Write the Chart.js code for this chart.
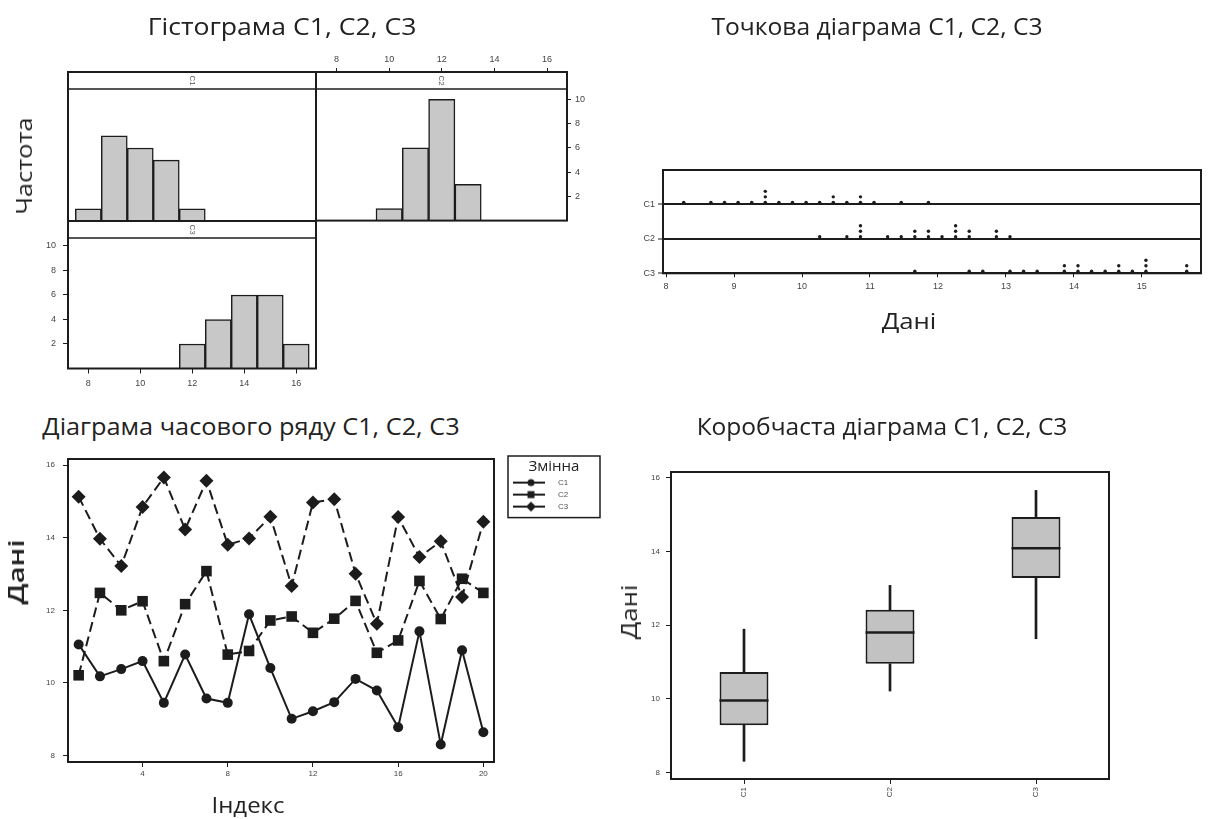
<!DOCTYPE html>
<html>
<head>
<meta charset="utf-8">
<title>C1, C2, C3</title>
<script src="https://cdn.jsdelivr.net/npm/chart.js@4.4.1/dist/chart.umd.min.js"></script>
<style>
  html, body { margin: 0; padding: 0; background: #fff; }
  #page { position: relative; width: 1216px; height: 819px; overflow: hidden; background: #fff; }
  #page canvas { position: absolute; }
  .txt { position: absolute; white-space: nowrap; line-height: 1; color: #222; font-family: "Open Sans", sans-serif;
         transform: translate(-50%, -50%); }
  .ttl { font-size: 23px; }
  .axt { font-size: 22px; }
</style>
</head>
<body>
<div id="page">
  <canvas id="histC1" width="264" height="165" style="left:60px;top:64px"></canvas>
  <canvas id="histC2" width="320" height="200" style="left:300px;top:30px"></canvas>
  <canvas id="histC3" width="330" height="190" style="left:0px;top:210px"></canvas>
  <canvas id="dotPlot" width="616" height="195" style="left:600px;top:150px"></canvas>
  <canvas id="timeSeries" width="620" height="350" style="left:0px;top:445px"></canvas>
  <canvas id="boxPlot" width="616" height="374" style="left:600px;top:445px"></canvas>

  <div class="txt ttl" data-w="269" style="left:282px;top:26px">Гістограма C1, C2, C3</div>
  <div class="txt ttl" data-w="331" style="left:877px;top:26px">Точкова діаграма C1, C2, C3</div>
  <div class="txt ttl" data-w="417" style="left:251px;top:426px">Діаграма часового ряду C1, C2, C3</div>
  <div class="txt ttl" data-w="371" style="left:882px;top:426px">Коробчаста діаграма C1, C2, C3</div>
  <div class="txt axt" data-w="97" data-rot="1" style="left:23px;top:166px">Частота</div>
  <div class="txt axt" data-w="55" style="left:909px;top:320px">Дані</div>
  <div class="txt axt" data-w="65" data-rot="1" style="left:15px;top:572px;font-weight:600">Дані</div>
  <div class="txt axt" data-w="73" style="left:248px;top:804px">Індекс</div>
  <div class="txt axt" data-w="55" data-rot="1" style="left:628px;top:612px">Дані</div>
</div>

<script>
// ---- data ----
const SERIES = ['C1', 'C2', 'C3'];
const INDEX = [1, 2, 3, 4, 5, 6, 7, 8, 9, 10, 11, 12, 13, 14, 15, 16, 17, 18, 19, 20];
const C1 = [11.06, 10.18, 10.38, 10.6, 9.45, 10.78, 9.57, 9.45, 11.89, 10.41, 9.01, 9.22, 9.47, 10.11, 9.79, 8.78, 11.42, 8.30, 10.9, 8.64];
const C2 = [10.21, 12.48, 12.0, 12.25, 10.6, 12.17, 13.08, 10.78, 10.88, 11.72, 11.83, 11.38, 11.77, 12.26, 10.83, 11.17, 12.81, 11.76, 12.87, 12.48];
const C3 = [15.13, 13.97, 13.22, 14.85, 15.66, 14.23, 15.57, 13.81, 13.98, 14.58, 12.67, 14.97, 15.06, 13.01, 11.63, 14.57, 13.47, 13.9, 12.37, 14.44];

const HIST_C1_BINS = [8, 9, 10, 11, 12];
const HIST_C1_FREQ = [1, 7, 6, 5, 1];
const HIST_C2_BINS = [10, 11, 12, 13];
const HIST_C2_FREQ = [1, 6, 10, 3];
const HIST_C3_BINS = [12, 13, 14, 15, 16];
const HIST_C3_FREQ = [2, 4, 6, 6, 2];

const BOX_MIN = [8.30, 10.21, 11.63];
const BOX_Q1 = [9.28, 10.95, 13.28];
const BOX_MED = [9.95, 11.80, 14.09];
const BOX_Q3 = [10.73, 12.42, 14.94];
const BOX_MAX = [11.89, 13.08, 15.66];

const HIST_X_TICKS = [8, 10, 12, 14, 16];
const HIST_Y_TICKS = [2, 4, 6, 8, 10];
const DOT_X_TICKS = [8, 9, 10, 11, 12, 13, 14, 15];
const DOT_ROWS = ['C3', 'C2', 'C1'];   // bottom to top
const TS_X_TICKS = [4, 8, 12, 16, 20];
const VALUE_TICKS = [8, 10, 12, 14, 16];

// ---- look ----
const INK = '#1c1c1c';
const BAR_FILL = '#c8c8c8';
const BOX_FILL = '#c2c2c2';
Chart.defaults.font.family = '"Liberation Sans", Arial, sans-serif';
Chart.defaults.font.size = 9;
Chart.defaults.color = '#444';
Chart.defaults.animation = false;
Chart.defaults.responsive = false;
Chart.defaults.plugins.legend.display = false;
Chart.defaults.plugins.tooltip.enabled = false;

const fixTicks = values => scale => { scale.ticks = values.map(v => ({ value: v })); };

// frame round the plot area, optional Minitab-style strip on top, optional legend box
const framePlugin = {
  id: 'frame',
  afterDraw(chart, args, o) {
    const { ctx, chartArea: a } = chart;
    const w = a.right - a.left;
    let top = a.top;
    ctx.save();
    ctx.strokeStyle = INK;
    if (o.strip) {
      top = a.top - o.stripH;
      ctx.fillStyle = '#fff';
      ctx.fillRect(a.left, top, w, o.stripH);
      ctx.lineWidth = 1.5;
      ctx.beginPath(); ctx.moveTo(a.left, a.top); ctx.lineTo(a.right, a.top); ctx.stroke();
      ctx.save();
      ctx.translate((a.left + a.right) / 2, top + o.stripH / 2);
      ctx.rotate(Math.PI / 2);
      ctx.fillStyle = '#555';
      ctx.font = '8px "Liberation Sans", Arial, sans-serif';
      ctx.textAlign = 'center'; ctx.textBaseline = 'middle';
      ctx.fillText(o.strip, 0, 0);
      ctx.restore();
    }
    ctx.lineWidth = o.lineWidth || 2;
    ctx.strokeRect(a.left, top, w, a.bottom - top);
    if (o.legendBox && chart.legend && chart.legend.legendHitBoxes.length) {
      const lg = chart.legend;
      const hb = lg.legendHitBoxes[lg.legendHitBoxes.length - 1];
      const x0 = lg.left + 14, y0 = lg.top - 3;
      ctx.lineWidth = 1.5;
      ctx.strokeRect(x0, y0, 92, hb.top + hb.height + 7 - y0);
      ctx.fillStyle = '#222';
      ctx.font = '15px "Open Sans", sans-serif';
      ctx.textAlign = 'center'; ctx.textBaseline = 'middle';
      ctx.fillText(chart.options.plugins.legend.title.text, x0 + 46, lg.top + 8);
    }
    ctx.restore();
  }
};

function tickAxis(extra) {
  const base = {
    bounds: 'data',
    offset: false,
    border: { display: false },
    grid: { drawOnChartArea: false, drawTicks: true, tickLength: 5, color: INK, tickColor: INK, tickWidth: 1, offset: false },
    ticks: { padding: 4, color: '#444' }
  };
  const out = Object.assign({}, base, extra);
  out.grid = Object.assign({}, base.grid, extra.grid || {});
  out.ticks = Object.assign({}, base.ticks, extra.ticks || {});
  return out;
}

// nudge layout padding until the plot frame sits where the panel frame is
function fitArea(chart, want) {
  for (let k = 0; k < 4; k++) {
    const a = chart.chartArea, p = chart.options.layout.padding;
    const d = { left: want[0] - a.left, top: want[1] - a.top, right: a.right - want[2], bottom: a.bottom - want[3] };
    if (Object.values(d).every(v => Math.abs(v) < 0.3)) break;
    p.left += d.left; p.top += d.top; p.right += d.right; p.bottom += d.bottom;
    chart.update();
  }
}

// ---- histograms ----
const HX_MIN = 7.22, HX_MAX = 16.76;
function histDataset(bins, freq) {
  return {
    data: bins.map((b, i) => ({ x: b, y: freq[i] })),
    backgroundColor: BAR_FILL, borderColor: INK, borderWidth: 1.5,
    barPercentage: 1, categoryPercentage: 1
  };
}

const h1 = new Chart(document.getElementById('histC1'), {
  type: 'bar',
  data: { datasets: [histDataset(HIST_C1_BINS, HIST_C1_FREQ)] },
  options: {
    layout: { padding: { left: 8, right: 8, top: 25, bottom: 8 } },
    plugins: { frame: { strip: 'C1', stripH: 17 } },
    scales: {
      x: { type: 'linear', min: HX_MIN, max: HX_MAX, offset: false, display: false },
      y: { min: 0, max: 10.85, display: false }
    }
  },
  plugins: [framePlugin]
});
fitArea(h1, [8, 25, 256, 157]);

const h2 = new Chart(document.getElementById('histC2'), {
  type: 'bar',
  data: { datasets: [histDataset(HIST_C2_BINS, HIST_C2_FREQ)] },
  options: {
    layout: { padding: { left: 16, right: 23, top: 21, bottom: 9 } },
    plugins: { frame: { strip: 'C2', stripH: 17 } },
    scales: {
      x: tickAxis({ type: 'linear', position: 'top', min: HX_MIN, max: HX_MAX,
        afterBuildTicks: fixTicks(HIST_X_TICKS), afterFit: s => { s.height = 38; },
        grid: { tickLength: 21 }, ticks: { padding: 3 } }),
      y: tickAxis({ position: 'right', min: 0, max: 10.85,
        afterBuildTicks: fixTicks(HIST_Y_TICKS), afterFit: s => { s.width = 30; },
        grid: { tickLength: 4 }, ticks: { padding: 4 } })
    }
  },
  plugins: [framePlugin]
});
fitArea(h2, [16, 59, 267, 191]);

const h3 = new Chart(document.getElementById('histC3'), {
  type: 'bar',
  data: { datasets: [histDataset(HIST_C3_BINS, HIST_C3_FREQ)] },
  options: {
    layout: { padding: { left: 23, right: 14, top: 28, bottom: 6.5 } },
    plugins: { frame: { strip: 'C3', stripH: 17 } },
    scales: {
      x: tickAxis({ type: 'linear', min: HX_MIN, max: HX_MAX,
        afterBuildTicks: fixTicks(HIST_X_TICKS), afterFit: s => { s.height = 25; },
        ticks: { padding: 5 } }),
      y: tickAxis({ min: 0, max: 10.65,
        afterBuildTicks: fixTicks(HIST_Y_TICKS), afterFit: s => { s.width = 45; },
        ticks: { padding: 7 } })
    }
  },
  plugins: [framePlugin]
});
fitArea(h3, [68, 28, 316, 158.5]);

// ---- dot plot: equal values (to 0.2) stack upwards from each row line ----
const DOT_STEP = 0.2, DOT_ORIGIN = 0.06;
function dotStacks(values, row) {
  const counts = {};
  return values.slice().sort((a, b) => a - b).map(v => {
    const k = Math.round((v - DOT_ORIGIN) / DOT_STEP);
    counts[k] = (counts[k] || 0) + 1;
    return { x: DOT_ORIGIN + k * DOT_STEP, y: row + 0.06 + (counts[k] - 1) * 0.16 };
  });
}
const seriesValues = { C1: C1, C2: C2, C3: C3 };

const dot = new Chart(document.getElementById('dotPlot'), {
  type: 'scatter',
  data: {
    datasets: SERIES.map(name => ({
      data: dotStacks(seriesValues[name], DOT_ROWS.indexOf(name)),
      pointRadius: 1.7, pointBackgroundColor: INK, pointBorderWidth: 0
    }))
  },
  options: {
    layout: { padding: { left: 23, right: 15, top: 20, bottom: 7.7 } },
    plugins: { frame: {} },
    scales: {
      x: tickAxis({ type: 'linear', min: 7.955, max: 15.87,
        afterBuildTicks: fixTicks(DOT_X_TICKS), afterFit: s => { s.height = 64; },
        grid: { tickLength: 4 }, ticks: { padding: 4 } }),
      y: tickAxis({ type: 'linear', min: 0, max: 3,
        afterBuildTicks: fixTicks([0, 1, 2]), afterFit: s => { s.width = 40; },
        grid: { drawOnChartArea: true, lineWidth: 2, tickLength: 5 },
        ticks: { padding: 3, callback: v => DOT_ROWS[v] } })
    }
  },
  plugins: [framePlugin]
});
fitArea(dot, [63, 20, 601, 123.3]);

// ---- time series ----
function legendIcon(style, size) {
  const c = document.createElement('canvas');
  c.width = 56; c.height = 14;
  const g = c.getContext('2d');
  g.strokeStyle = INK; g.fillStyle = INK; g.lineWidth = 2;
  g.beginPath(); g.moveTo(15, 7); g.lineTo(47, 7); g.stroke();
  g.beginPath();
  if (style === 'circle') g.arc(33, 7, size, 0, Math.PI * 2);
  else if (style === 'rect') g.rect(33 - size, 7 - size, size * 2, size * 2);
  else { g.moveTo(33 - size, 7); g.lineTo(33, 7 - size); g.lineTo(33 + size, 7); g.lineTo(33, 7 + size); g.closePath(); }
  g.fill();
  return c;
}
const TS_STYLE = {
  C1: { pointStyle: 'circle', pointRadius: 5, borderDash: [], icon: legendIcon('circle', 3.5) },
  C2: { pointStyle: 'rect', pointRadius: 7.5, borderDash: [10, 5], icon: legendIcon('rect', 3.5) },
  C3: { pointStyle: 'rectRot', pointRadius: 7, borderDash: [10, 5], icon: legendIcon('rectRot', 5) }
};

const ts = new Chart(document.getElementById('timeSeries'), {
  type: 'line',
  data: {
    datasets: SERIES.map(name => ({
      label: name,
      data: seriesValues[name].map((v, i) => ({ x: INDEX[i], y: v })),
      borderColor: INK, borderWidth: 2, borderDash: TS_STYLE[name].borderDash,
      pointStyle: TS_STYLE[name].pointStyle, pointRadius: TS_STYLE[name].pointRadius,
      pointBackgroundColor: INK, pointBorderWidth: 0, tension: 0
    }))
  },
  options: {
    layout: { padding: { left: 23, right: 20, top: 14, bottom: 8 } },
    plugins: {
      frame: { legendBox: true },
      legend: {
        display: true, position: 'right', align: 'start',
        // title keeps its room; the plugin writes it centred in the legend box
        title: { display: true, text: 'Змінна', color: 'rgba(0,0,0,0)', padding: { top: 0, bottom: 0 },
          font: { family: '"Open Sans", sans-serif', size: 13 } },
        labels: {
          usePointStyle: true, pointStyleWidth: 56, padding: 4, color: '#555', font: { size: 8 },
          generateLabels: chart => chart.data.datasets.map((ds, i) => ({
            text: ds.label, pointStyle: TS_STYLE[ds.label].icon, datasetIndex: i, fontColor: '#555',
            lineWidth: 0, fillStyle: INK, strokeStyle: INK, hidden: false
          }))
        }
      }
    },
    scales: {
      x: tickAxis({ type: 'linear', min: 0.5, max: 20.5,
        afterBuildTicks: fixTicks(TS_X_TICKS), afterFit: s => { s.height = 25; },
        ticks: { padding: 2, font: { size: 8 } } }),
      y: tickAxis({ type: 'linear', min: 7.82, max: 16.17,
        afterBuildTicks: fixTicks(VALUE_TICKS), afterFit: s => { s.width = 45; },
        ticks: { padding: 8, font: { size: 8 } } })
    }
  },
  plugins: [framePlugin]
});
fitArea(ts, [68, 14, 494, 317]);

// ---- box plot ----
const bx = new Chart(document.getElementById('boxPlot'), {
  type: 'bar',
  data: {
    labels: SERIES,
    datasets: [
      { type: 'line', data: BOX_MED, showLine: false, pointStyle: 'line', pointRadius: 24.5,
        pointBorderWidth: 2.5, pointBorderColor: INK },
      { data: BOX_Q1.map((q, i) => [q, BOX_Q3[i]]), backgroundColor: BOX_FILL, borderColor: INK,
        borderWidth: 2, borderSkipped: false, barPercentage: 0.335, categoryPercentage: 1, grouped: false },
      { data: BOX_MIN.map((m, i) => [m, BOX_Q1[i]]), backgroundColor: INK, borderWidth: 0,
        barThickness: 2, grouped: false },
      { data: BOX_Q3.map((q, i) => [q, BOX_MAX[i]]), backgroundColor: INK, borderWidth: 0,
        barThickness: 2, grouped: false }
    ]
  },
  options: {
    layout: { padding: { left: 9, right: 107, top: 14, bottom: 5 } },
    plugins: { frame: {} },
    scales: {
      x: tickAxis({ type: 'category', offset: true, afterFit: s => { s.height = 35; },
        ticks: { padding: 3, font: { size: 8 }, minRotation: 90, maxRotation: 90 } }),
      y: tickAxis({ type: 'linear', min: 7.82, max: 16.16,
        afterBuildTicks: fixTicks(VALUE_TICKS), afterFit: s => { s.width = 40; },
        ticks: { padding: 6, font: { size: 8 } } })
    }
  },
  plugins: [framePlugin]
});
fitArea(bx, [71, 14, 509, 334]);

// ---- stretch the loose labels to the widths they have in the picture ----
document.querySelectorAll('.txt[data-w]').forEach(el => {
  const k = (+el.dataset.w) / el.offsetWidth;
  el.style.transform = 'translate(-50%, -50%)' + (el.dataset.rot ? ' rotate(-90deg)' : '') + ' scaleX(' + k.toFixed(3) + ')';
});
</script>
</body>
</html>
